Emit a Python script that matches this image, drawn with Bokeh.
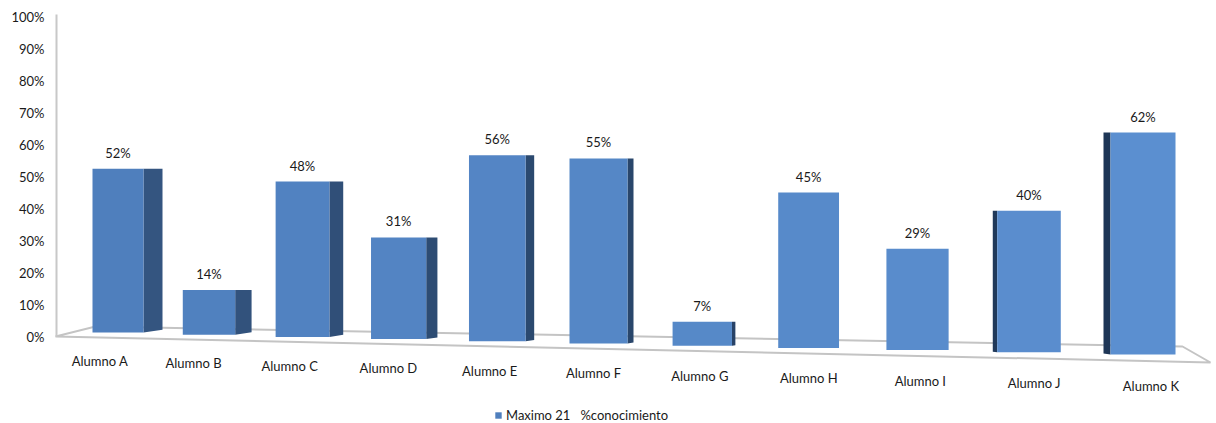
import numpy as np
from bokeh.plotting import figure
from bokeh.models import (Range1d, FixedTicker, CustomJSTickFormatter, ColumnDataSource,
                          Legend, LegendItem)
from bokeh.core.properties import value
from bokeh.embed import file_html
from bokeh.resources import INLINE

# ---- data -------------------------------------------------------------
students = ["Alumno A", "Alumno B", "Alumno C", "Alumno D", "Alumno E", "Alumno F",
            "Alumno G", "Alumno H", "Alumno I", "Alumno J", "Alumno K"]
conocimiento = [52, 14, 48, 31, 56, 55, 7, 45, 29, 40, 62]
series_name = "Maximo 21   %conocimiento"
y_ticks = [0, 10, 20, 30, 40, 50, 60, 70, 80, 90, 100]

# ---- canvas / projection ----------------------------------------------
W, H = 1216, 423
FRAME_LEFT = 50
PX_PER_PCT = 3.2          # vertical axis scale (screen px per percent)
ZERO_PX = 336             # screen row of the 0% tick
FONT = "Lato"
FONT_SIZE = "13px"
TEXT_COL = "#1a1a1a"


def row(px):
    """screen row -> y value in axis units"""
    return (ZERO_PX - np.asarray(px, dtype=float)) / PX_PER_PCT


# perspective of the 3-D column layout: slots further right sit closer to the viewer
slot = np.arange(len(students), dtype=float)
x_left = 92 + 89 * slot + 1.28 * slot ** 2
bar_w = 51 + 1.4 * slot
base_px = 332 + 2.2 * slot
pct_scale = 3.15 + 0.043 * slot
depth = 19 - 2.6 * slot

vals = np.array(conocimiento, dtype=float)
top_px = base_px - vals * pct_scale
x_right = x_left + bar_w
x_mid = (x_left + x_right) / 2


def mix(c0, c1, t):
    c = [int(round(a + (b - a) * t)) for a, b in zip(c0, c1)]
    return "#%02x%02x%02x" % tuple(c)


t = slot / slot.max()
front_col = [mix((79, 127, 189), (91, 143, 208), k) for k in t]
side_col = [mix((52, 85, 128), (30, 54, 86), k) for k in t]

p = figure(width=W, height=H, output_backend="svg", toolbar_location=None,
           x_range=Range1d(FRAME_LEFT, W), y_range=Range1d(row(H), row(0)),
           min_border_left=FRAME_LEFT, min_border_right=0, min_border_top=0,
           min_border_bottom=0, x_axis_location=None, tools="")
p.outline_line_color = None
p.grid.visible = False
p.background_fill_color = "white"
p.border_fill_color = "white"

ax = p.yaxis[0]
ax.ticker = FixedTicker(ticks=y_ticks)
ax.formatter = CustomJSTickFormatter(code="return tick + '%';")
ax.axis_line_color = None
ax.major_tick_line_color = None
ax.minor_tick_line_color = None
ax.major_tick_out = 0
ax.minor_tick_out = 0
ax.major_label_standoff = 6
ax.major_label_text_font = FONT
ax.major_label_text_font_size = FONT_SIZE
ax.major_label_text_color = TEXT_COL

# floor of the 3-D plot area
floor_x = [55, 95, 1182, 1210]
floor_y = row([336, 326, 346, 362])
p.patch(floor_x, floor_y, fill_color="white", line_color="#c4c4c4", line_width=2)

# vertical wall edge
p.segment(x0=[56], y0=[row(336)], x1=[56], y1=[row(14)], line_color="#c8c8c8", line_width=2)

# side faces: right side while the column is left of the eye, left side after it
side_xs, side_ys, side_fc = [], [], []
for i in range(len(students)):
    d = depth[i]
    if abs(d) < 2.5:
        continue
    lift = 0.15 * abs(d)
    if d > 0:
        xs = [x_right[i], x_right[i] + d, x_right[i] + d, x_right[i]]
        ys = row([base_px[i], base_px[i] - lift, top_px[i], top_px[i]])
    else:
        xs = [x_left[i] + d, x_left[i], x_left[i], x_left[i] + d]
        ys = row([base_px[i] - lift, base_px[i], top_px[i], top_px[i]])
    side_xs.append(list(xs))
    side_ys.append(list(ys))
    side_fc.append(side_col[i])
p.patches(xs="xs", ys="ys", fill_color="fc", line_color=None,
          source=ColumnDataSource(dict(xs=side_xs, ys=side_ys, fc=side_fc)))

# front faces
front = ColumnDataSource(dict(left=x_left, right=x_right, bottom=row(base_px),
                              top=row(top_px), fc=front_col))
front_r = p.quad(left="left", right="right", bottom="bottom", top="top",
                 fill_color="fc", line_color=None, source=front)

# value labels
p.text(x=x_mid, y=row(top_px - 8), text=[f"{v}%" for v in conocimiento],
       text_align="center", text_baseline="bottom", text_font=value(FONT),
       text_font_size=FONT_SIZE, text_color=TEXT_COL)

# category labels along the front edge of the floor
p.text(x=x_mid - 18 + 2.6 * slot, y=row(360 + 2.5 * slot), text=students,
       text_align="center", text_baseline="middle", text_font=value(FONT),
       text_font_size=FONT_SIZE, text_color=TEXT_COL)

legend = Legend(items=[LegendItem(label=series_name, renderers=[front_r], index=0)],
                location=(444, 0), orientation="horizontal", padding=0, margin=0,
                border_line_color=None, background_fill_alpha=0,
                glyph_width=8, glyph_height=8, label_standoff=4,
                label_text_font=FONT, label_text_font_size=FONT_SIZE,
                label_text_color=TEXT_COL, label_height=12)
p.add_layout(legend)

open("out.html", "w").write(file_html(p, INLINE))
